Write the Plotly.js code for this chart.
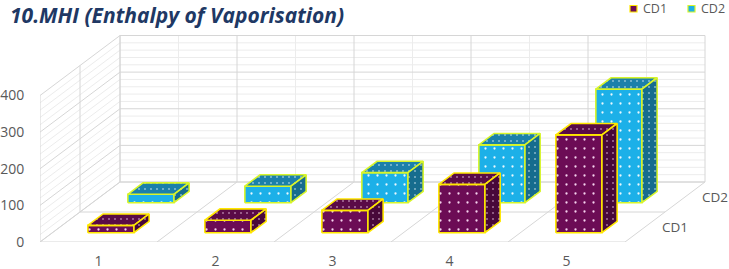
<!DOCTYPE html>
<html><head><meta charset="utf-8">
<script src="https://cdn.plot.ly/plotly-3.0.1.min.js"></script>
<style>html,body{margin:0;padding:0;background:#fff}#chart{width:729px;height:269px}</style>
</head><body><div id="chart"></div>
<script>
// ---- data ----
const categories = ['1', '2', '3', '4', '5'];
const seriesNames = ['CD1', 'CD2'];
const cd1Values = [20, 34, 61, 132, 267];
const cd2Values = [23, 45, 82, 158, 310];
const valueTicks = [0, 100, 200, 300, 400];
const minorStep = 20;

// ---- oblique projection (category, depth 0..1, value) -> axis coordinates ----
const PXCAT = 117;               // px per category
const PXVAL = 146.5 / 400;       // px per value unit
const KX = 80 / PXCAT;           // category units per full depth
const KY = 60 / PXVAL;           // value units per full depth
const HW = 0.197, HD = 0.095;    // bar half width (cat units), half depth
const depthCenter = [0.25, 0.75];
const VMAX = valueTicks[valueTicks.length - 1];
const C0 = 0.5, C1 = categories.length + 0.5;

function P(c, d, v) { return [c + KX * d, v + KY * d]; }

function addPoly(arr, pts) {
  pts.concat([pts[0]]).forEach(p => { arr.x.push(p[0]); arr.y.push(p[1]); });
  arr.x.push(null); arr.y.push(null);
}
function addLine(arr, a, b) {
  arr.x.push(a[0], b[0], null); arr.y.push(a[1], b[1], null);
}

// ---- walls / gridlines ----
const minor = {x: [], y: []}, major = {x: [], y: []};
for (let v = 0; v <= VMAX; v += minorStep) {
  const t = (v % 100 === 0) ? major : minor;
  addLine(t, P(C0, 1, v), P(C1, 1, v));      // back wall
  addLine(t, P(C0, 0, v), P(C0, 1, v));      // left wall
}
for (let k = 0; k <= categories.length * 2; k++) {
  const c = C0 + k * 0.5;
  addLine(k % 2 === 0 ? major : minor, P(c, 1, 0), P(c, 1, VMAX));
}
[0, 0.5, 1].forEach(d => {
  addLine(major, P(C0, d, 0), P(C0, d, VMAX));  // left wall verticals
  addLine(major, P(C0, d, 0), P(C1, d, 0));     // floor across
});
for (let k = 0; k <= categories.length; k++) {
  addLine(major, P(C0 + k, 0, 0), P(C0 + k, 1, 0)); // floor depth lines
}

const traces = [
  {type: 'scatter', mode: 'lines', x: minor.x, y: minor.y, line: {color: '#ececec', width: 1}, hoverinfo: 'skip'},
  {type: 'scatter', mode: 'lines', x: major.x, y: major.y, line: {color: '#d6d6d6', width: 1}, hoverinfo: 'skip'}
];

// ---- bars ----
const styles = [
  {front: '#6c0c55', top: '#5a0b47', side: '#48083a', edge: '#ffe800', dot: '#f6d2ee'},
  {front: '#1cb0e8', top: '#1b80aa', side: '#166c8e', edge: '#d8f52a', dot: '#e8f8ff'}
];
const seriesValues = [cd1Values, cd2Values];

[1, 0].forEach(s => {
  const vals = seriesValues[s], st = styles[s];
  const df = depthCenter[s] - HD, db = depthCenter[s] + HD;
  const front = {x: [], y: []}, top = {x: [], y: []}, side = {x: [], y: []};
  vals.forEach((v, i) => {
    const c = i + 1, l = c - HW, r = c + HW;
    addPoly(front, [P(l, df, 0), P(r, df, 0), P(r, df, v), P(l, df, v)]);
    addPoly(top, [P(l, df, v), P(r, df, v), P(r, db, v), P(l, db, v)]);
    addPoly(side, [P(r, df, 0), P(r, db, 0), P(r, db, v), P(r, df, v)]);
  });
  [[front, st.front, 9], [top, st.top, 6], [side, st.side, 6]].forEach(([f, col, sz]) => {
    traces.push({
      type: 'scatter', mode: 'lines', x: f.x, y: f.y, fill: 'toself',
      fillcolor: col, name: seriesNames[s],
      fillpattern: {shape: '.', bgcolor: col, fgcolor: st.dot, size: sz, solidity: 0.05},
      line: {color: st.edge, width: 1.6}, hoverinfo: 'skip'
    });
  });
});

// ---- layout ----
const L = 40, T = 0, B = 27, W = 729, H = 269;
const plotW = W - L, plotH = H - T - B;
const xp = px => (px - L) / plotW;
const yp = py => (H - B - py) / plotH;
const tickFont = {family: 'Open Sans', size: 14, color: '#595959'};

const annotations = seriesNames.map((n, s) => {
  const p = P(C1, depthCenter[s], 0);
  return {x: p[0], y: p[1], xref: 'x', yref: 'y', text: n, showarrow: false,
    xanchor: 'left', yanchor: 'middle', xshift: 15,
    font: {family: 'Open Sans', size: 13.5, color: '#595959'}};
});
const legendX = [630, 688];
const shapes = [];
seriesNames.forEach((n, s) => {
  shapes.push({type: 'rect', xref: 'paper', yref: 'paper',
    x0: xp(legendX[s]), x1: xp(legendX[s] + 7), y0: yp(12), y1: yp(5.5),
    fillcolor: styles[s].front, line: {color: styles[s].edge, width: 1.2}});
  annotations.push({xref: 'paper', yref: 'paper', x: xp(legendX[s] + 11), y: yp(9),
    text: n, showarrow: false, xanchor: 'left', yanchor: 'middle',
    font: {family: 'Open Sans', size: 12.5, color: '#595959'}});
});

const layout = {
  width: W, height: H,
  margin: {l: L, r: 0, t: T, b: B, pad: 0},
  paper_bgcolor: '#ffffff', plot_bgcolor: 'rgba(0,0,0,0)',
  showlegend: false,
  title: {text: '<b><i>10.MHI (Enthalpy of Vaporisation)</i></b>',
    xref: 'container', yref: 'container', x: 10 / W, xanchor: 'left',
    y: 1 - 16 / H, yanchor: 'middle',
    font: {family: 'Open Sans', size: 21, color: '#203864'}},
  xaxis: {range: [C0, C0 + plotW / PXCAT], tickvals: categories.map((c, i) => i + 1),
    ticktext: categories, showgrid: false, zeroline: false, showline: false,
    ticks: 'outside', ticklen: 6, tickcolor: 'rgba(0,0,0,0)', tickfont: tickFont, fixedrange: true},
  yaxis: {range: [0, plotH / PXVAL], tickvals: valueTicks, ticktext: valueTicks.map(String),
    showgrid: false, zeroline: false, showline: false,
    ticks: 'outside', ticklen: 12, tickcolor: 'rgba(0,0,0,0)', tickfont: tickFont, fixedrange: true},
  annotations: annotations, shapes: shapes
};

Plotly.newPlot('chart', traces, layout, {displayModeBar: false, staticPlot: true});
</script></body></html>
